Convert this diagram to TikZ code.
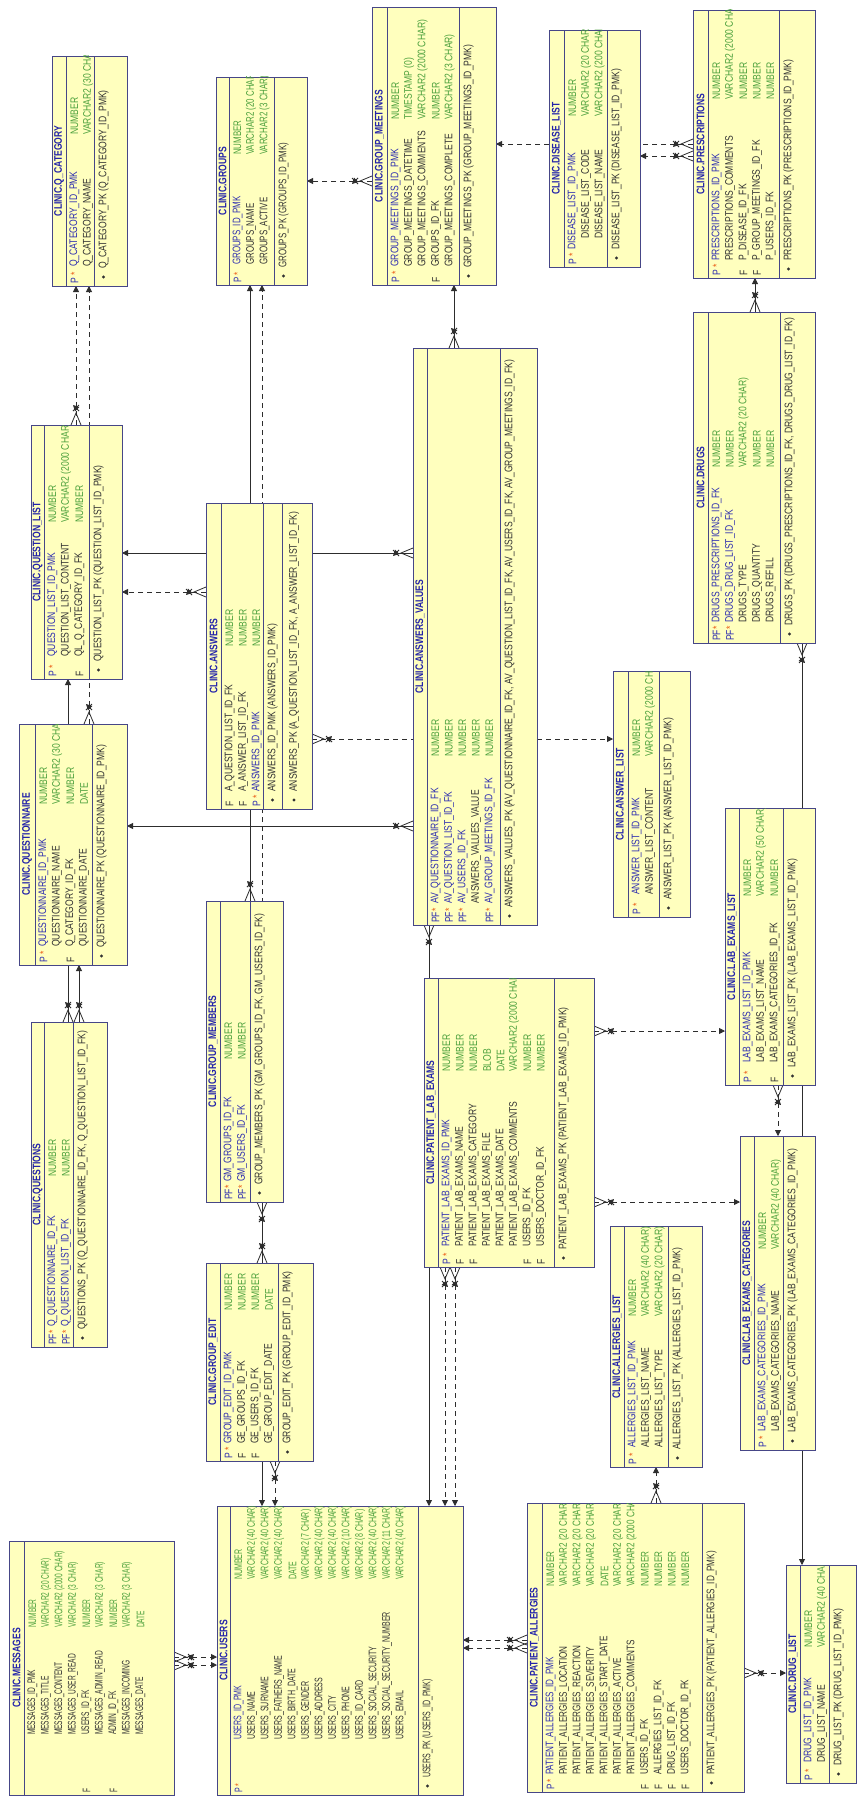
\documentclass[tikz,border=0pt]{standalone}
\usepackage{fontspec}
\setmainfont{Liberation Sans}
\usetikzlibrary{arrows.meta, decorations.markings}

\definecolor{tblfill}{RGB}{255,255,190}
\definecolor{tbledge}{RGB}{70,70,135}
\definecolor{ttlblue}{RGB}{35,35,170}
\definecolor{pkblue}{RGB}{45,45,175}
\definecolor{namegray}{RGB}{50,50,50}
\definecolor{typegreen}{RGB}{75,160,60}
\definecolor{starred}{RGB}{235,95,25}
\definecolor{linkgray}{RGB}{45,45,45}

\pgfdeclarelayer{links}
\pgfsetlayers{links,main}

\newcommand\tsx{0.78}
\newcommand\mkp{\textcolor{pkblue}{P}\hspace{3pt}\textcolor{starred}{*}}
\newcommand\mkpf{\textcolor{pkblue}{PF}\textcolor{starred}{*}}
\newcommand\mkf{\textcolor{namegray}{F}}

% table frame: name, x0, y0, x1, y1 (pixels, y downwards)
\newcommand\tframe[5]{\node[tbl, minimum width=#4pt-#2pt, minimum height=#5pt-#3pt]
  (#1) at ({(#2+#4)/2},{(#3+#5)/2}) {};}
% table text, read bottom to top: [scale]{name}{length}{width}{title sep}{key sep}{name start}{type start}
\newenvironment{ertab}[8][0.78]{%
  \begin{scope}[shift={(#2.south west)}, rotate=90, transform shape]
  \def\tlen{#3}\def\tsep{#5}\def\ksep{#6}\def\nst{#7}\def\tst{#8}\def\tsx{#1}%
  \clip (0,0) rectangle (#3,#4);
  \draw[sep] (0,#5) -- (#3,#5) (0,#6) -- (#3,#6);}{\end{scope}}
\newcommand\ttl[1]{\node[ttl] at (\tlen/2,\tsep/2) {#1};}
\newcommand\col[5][namegray]{\pgfmathsetmacro\rv{\tsep+8.5+13.5*(#2-1)}%
  \node[fld] at (2,\rv) {#3};
  \node[fld, text=#1] at (\nst,\rv) {#4};
  \node[fld, text=typegreen] at (\tst,\rv) {#5};}
\newcommand\pkey[2][9.5]{\fill[namegray] (9,\ksep+#1) circle (1.7);
  \node[fld, text=namegray] at (17,\ksep+#1) {#2};}

\begin{document}
\begin{tikzpicture}[x=1pt, y=-1pt,
    tbl/.style={draw=tbledge, fill=tblfill, line width=0.8pt, inner sep=0pt, outer sep=0pt},
    sep/.style={draw=tbledge, line width=0.8pt},
    fld/.style={anchor=west, inner sep=0pt, font=\fontsize{11}{13}\selectfont, xscale=\tsx},
    ttl/.style={inner sep=0pt, font=\fontsize{11}{13}\selectfont\bfseries, text=ttlblue, xscale=0.78},
    crow/.style={postaction={decorate, decoration={markings, mark=at position 0pt with
        {\draw[solid, line width=0.8pt, linkgray] (0,5) -- (12,0) -- (0,-5) (14,-3) -- (20,3) (14,3) -- (20,-3);}}}},
    fk/.style={draw=linkgray, line width=0.8pt, -{Triangle[length=6pt, width=6pt]}, crow},
    fkd/.style={fk, dash pattern=on 5pt off 4pt},
]
\useasboundingbox (0,0) rectangle (857,1798);

% questionnaires
\tframe{qcat}{52}{56}{127}{286}
\begin{ertab}{qcat}{230}{75}{14}{42}{19}{151}
\ttl{CLINIC.Q\_CATEGORY}
\col[pkblue]{1}{\mkp}{Q\_CATEGORY\_ID\_PMK}{NUMBER}
\col{2}{}{Q\_CATEGORY\_NAME}{VARCHAR2 (30 CHAR)}
\pkey{Q\_CATEGORY\_PK (Q\_CATEGORY\_ID\_PMK)}
\end{ertab}

\tframe{qlist}{31}{425}{122}{679}
\begin{ertab}{qlist}{254}{91}{13}{58}{22}{156}
\ttl{CLINIC.QUESTION\_LIST}
\col[pkblue]{1}{\mkp}{QUESTION\_LIST\_ID\_PMK}{NUMBER}
\col{2}{}{QUESTION\_LIST\_CONTENT}{VARCHAR2 (2000 CHAR)}
\col{3}{\mkf}{QL\_Q\_CATEGORY\_ID\_FK}{NUMBER}
\pkey{QUESTION\_LIST\_PK (QUESTION\_LIST\_ID\_PMK)}
\end{ertab}

\tframe{qnaire}{19}{724}{127}{965}
\begin{ertab}{qnaire}{241}{108}{16}{73}{18}{160}
\ttl{CLINIC.QUESTIONNAIRE}
\col[pkblue]{1}{\mkp}{QUESTIONNAIRE\_ID\_PMK}{NUMBER}
\col{2}{}{QUESTIONNAIRE\_NAME}{VARCHAR2 (30 CHAR)}
\col{3}{\mkf}{Q\_CATEGORY\_ID\_FK}{NUMBER}
\col{4}{}{QUESTIONNAIRE\_DATE}{DATE}
\pkey{QUESTIONNAIRE\_PK (QUESTIONNAIRE\_ID\_PMK)}
\end{ertab}

\tframe{questions}{31}{1022}{107}{1347}
\begin{ertab}{questions}{325}{76}{13}{42}{20}{170}
\ttl{CLINIC.QUESTIONS}
\col[pkblue]{1}{\mkpf}{Q\_QUESTIONNAIRE\_ID\_FK}{NUMBER}
\col[pkblue]{2}{\mkpf}{Q\_QUESTION\_LIST\_ID\_FK}{NUMBER}
\pkey{QUESTIONS\_PK (Q\_QUESTIONNAIRE\_ID\_FK, Q\_QUESTION\_LIST\_ID\_FK)}
\end{ertab}

\tframe{answers}{206}{503}{312}{809}
\begin{ertab}{answers}{306}{106}{15}{57}{17}{162}
\draw[sep] (0,76) -- (\tlen,76);
\ttl{CLINIC.ANSWERS}
\col{1}{\mkf}{A\_QUESTION\_LIST\_ID\_FK}{NUMBER}
\col{2}{\mkf}{A\_ANSWER\_LIST\_ID\_FK}{NUMBER}
\col[pkblue]{3}{\mkp}{ANSWERS\_ID\_PMK}{NUMBER}
\pkey{ANSWERS\_ID\_PMK (ANSWERS\_ID\_PMK)}
\pkey[31]{ANSWERS\_PK (A\_QUESTION\_LIST\_ID\_FK, A\_ANSWER\_LIST\_ID\_FK)}
\end{ertab}

\tframe{avalues}{413}{348}{537}{925}
\begin{ertab}{avalues}{577}{124}{14}{87}{21}{168}
\ttl{CLINIC.ANSWERS\_VALUES}
\col[pkblue]{1}{\mkpf}{AV\_QUESTIONNAIRE\_ID\_FK}{NUMBER}
\col[pkblue]{2}{\mkpf}{AV\_QUESTION\_LIST\_ID\_FK}{NUMBER}
\col[pkblue]{3}{\mkpf}{AV\_USERS\_ID\_FK}{NUMBER}
\col{4}{}{ANSWERS\_VALUES\_VALUE}{NUMBER}
\col[pkblue]{5}{\mkpf}{AV\_GROUP\_MEETINGS\_ID\_FK}{NUMBER}
\pkey{ANSWERS\_VALUES\_PK (AV\_QUESTIONNAIRE\_ID\_FK, AV\_QUESTION\_LIST\_ID\_FK, AV\_USERS\_ID\_FK, AV\_GROUP\_MEETINGS\_ID\_FK)}
\end{ertab}

\tframe{alist}{613}{671}{690}{917}
\begin{ertab}{alist}{246}{77}{15}{46}{22}{160}
\ttl{CLINIC.ANSWER\_LIST}
\col[pkblue]{1}{\mkp}{ANSWER\_LIST\_ID\_PMK}{NUMBER}
\col{2}{}{ANSWER\_LIST\_CONTENT}{VARCHAR2 (2000 CHAR)}
\pkey{ANSWER\_LIST\_PK (ANSWER\_LIST\_ID\_PMK)}
\end{ertab}

% groups
\tframe{groups}{216}{77}{307}{285}
\begin{ertab}[0.72]{groups}{208}{91}{13}{58}{20}{130}
\ttl{CLINIC.GROUPS}
\col[pkblue]{1}{\mkp}{GROUPS\_ID\_PMK}{NUMBER}
\col{2}{}{GROUPS\_NAME}{VARCHAR2 (20 CHAR)}
\col{3}{}{GROUPS\_ACTIVE}{VARCHAR2 (3 CHAR)}
\pkey{GROUPS\_PK (GROUPS\_ID\_PMK)}
\end{ertab}

\tframe{gmeet}{372}{7}{496}{285}
\begin{ertab}{gmeet}{278}{124}{15}{87}{18}{165}
\ttl{CLINIC.GROUP\_MEETINGS}
\col[pkblue]{1}{\mkp}{GROUP\_MEETINGS\_ID\_PMK}{NUMBER}
\col{2}{}{GROUP\_MEETINGS\_DATETIME}{TIMESTAMP (0)}
\col{3}{}{GROUP\_MEETINGS\_COMMENTS}{VARCHAR2 (2000 CHAR)}
\col{4}{\mkf}{GROUPS\_ID\_FK}{NUMBER}
\col{5}{}{GROUP\_MEETINGS\_COMPLETE}{VARCHAR2 (3 CHAR)}
\pkey{GROUP\_MEETINGS\_PK (GROUP\_MEETINGS\_ID\_PMK)}
\end{ertab}

\tframe{gmembers}{206}{901}{283}{1202}
\begin{ertab}{gmembers}{301}{77}{14}{44}{20}{142}
\ttl{CLINIC.GROUP\_MEMBERS}
\col[pkblue]{1}{\mkpf}{GM\_GROUPS\_ID\_FK}{NUMBER}
\col[pkblue]{2}{\mkpf}{GM\_USERS\_ID\_FK}{NUMBER}
\pkey{GROUP\_MEMBERS\_PK (GM\_GROUPS\_ID\_FK, GM\_USERS\_ID\_FK)}
\end{ertab}

\tframe{gedit}{206}{1263}{313}{1461}
\begin{ertab}{gedit}{198}{107}{14}{72}{17}{150}
\ttl{CLINIC.GROUP\_EDIT}
\col[pkblue]{1}{\mkp}{GROUP\_EDIT\_ID\_PMK}{NUMBER}
\col{2}{\mkf}{GE\_GROUPS\_ID\_FK}{NUMBER}
\col{3}{\mkf}{GE\_USERS\_ID\_FK}{NUMBER}
\col{4}{}{GE\_GROUP\_EDIT\_DATE}{DATE}
\pkey{GROUP\_EDIT\_PK (GROUP\_EDIT\_ID\_PMK)}
\end{ertab}

% prescriptions
\tframe{dlist}{549}{30}{640}{267}
\begin{ertab}{dlist}{237}{91}{15}{58}{17}{150}
\ttl{CLINIC.DISEASE\_LIST}
\col[pkblue]{1}{\mkp}{DISEASE\_LIST\_ID\_PMK}{NUMBER}
\col{2}{}{\hspace*{14pt}DISEASE\_LIST\_CODE}{VARCHAR2 (20 CHAR)}
\col{3}{}{\hspace*{14pt}DISEASE\_LIST\_NAME}{VARCHAR2 (200 CHAR)}
\pkey{DISEASE\_LIST\_PK (DISEASE\_LIST\_ID\_PMK)}
\end{ertab}

\tframe{presc}{693}{10}{815}{278}
\begin{ertab}{presc}{268}{122}{15}{86}{17}{178}
\ttl{CLINIC.PRESCRIPTIONS}
\col[pkblue]{1}{\mkp}{PRESCRIPTIONS\_ID\_PMK}{NUMBER}
\col{2}{}{PRESCRIPTIONS\_COMMENTS}{VARCHAR2 (2000 CHAR)}
\col{3}{\mkf}{P\_DISEASE\_ID\_FK}{NUMBER}
\col{4}{\mkf}{P\_GROUP\_MEETINGS\_ID\_FK}{NUMBER}
\col{5}{}{P\_USERS\_ID\_FK}{NUMBER}
\pkey{PRESCRIPTIONS\_PK (PRESCRIPTIONS\_ID\_PMK)}
\end{ertab}

\tframe{drugs}{693}{312}{815}{643}
\begin{ertab}{drugs}{331}{122}{15}{87}{20}{175}
\ttl{CLINIC.DRUGS}
\col[pkblue]{1}{\mkpf}{DRUGS\_PRESCRIPTIONS\_ID\_FK}{NUMBER}
\col[pkblue]{2}{\mkpf}{DRUGS\_DRUG\_LIST\_ID\_FK}{NUMBER}
\col{3}{}{DRUGS\_TYPE}{VARCHAR2 (20 CHAR)}
\col{4}{}{DRUGS\_QUANTITY}{NUMBER}
\col{5}{}{DRUGS\_REFILL}{NUMBER}
\pkey{DRUGS\_PK (DRUGS\_PRESCRIPTIONS\_ID\_FK, DRUGS\_DRUG\_LIST\_ID\_FK)}
\end{ertab}

\tframe{druglist}{786}{1565}{856}{1783}
\begin{ertab}{druglist}{218}{70}{14}{43}{20}{135}
\ttl{CLINIC.DRUG\_LIST}
\col[pkblue]{1}{\mkp}{DRUG\_LIST\_ID\_PMK}{NUMBER}
\col{2}{}{DRUG\_LIST\_NAME}{VARCHAR2 (40 CHAR)}
\pkey{DRUG\_LIST\_PK (DRUG\_LIST\_ID\_PMK)}
\end{ertab}

% lab exams
\tframe{plab}{424}{978}{594}{1267}
\begin{ertab}{plab}{289}{170}{14}{130}{20}{195}
\ttl{CLINIC.PATIENT\_LAB\_EXAMS}
\col[pkblue]{1}{\mkp}{PATIENT\_LAB\_EXAMS\_ID\_PMK}{NUMBER}
\col{2}{\mkf}{PATIENT\_LAB\_EXAMS\_NAME}{NUMBER}
\col{3}{\mkf}{PATIENT\_LAB\_EXAMS\_CATEGORY}{NUMBER}
\col{4}{}{PATIENT\_LAB\_EXAMS\_FILE}{BLOB}
\col{5}{}{PATIENT\_LAB\_EXAMS\_DATE}{DATE}
\col{6}{}{PATIENT\_LAB\_EXAMS\_COMMENTS}{VARCHAR2 (2000 CHAR)}
\col{7}{\mkf}{USERS\_ID\_FK}{NUMBER}
\col{8}{\mkf}{USERS\_DOCTOR\_ID\_FK}{NUMBER}
\pkey{PATIENT\_LAB\_EXAMS\_PK (PATIENT\_LAB\_EXAMS\_ID\_PMK)}
\end{ertab}

\tframe{lelist}{725}{808}{815}{1085}
\begin{ertab}{lelist}{277}{90}{14}{58}{22}{188}
\ttl{CLINIC.LAB\_EXAMS\_LIST}
\col[pkblue]{1}{\mkp}{LAB\_EXAMS\_LIST\_ID\_PMK}{NUMBER}
\col{2}{}{LAB\_EXAMS\_LIST\_NAME}{VARCHAR2 (50 CHAR)}
\col{3}{\mkf}{LAB\_EXAMS\_CATEGORIES\_ID\_FK}{NUMBER}
\pkey{LAB\_EXAMS\_LIST\_PK (LAB\_EXAMS\_LIST\_ID\_PMK)}
\end{ertab}

\tframe{lecat}{740}{1136}{815}{1450}
\begin{ertab}{lecat}{314}{75}{14}{43}{18}{200}
\ttl{CLINIC.LAB\_EXAMS\_CATEGORIES}
\col[pkblue]{1}{\mkp}{LAB\_EXAMS\_CATEGORIES\_ID\_PMK}{NUMBER}
\col{2}{}{LAB\_EXAMS\_CATEGORIES\_NAME}{VARCHAR2 (40 CHAR)}
\pkey{LAB\_EXAMS\_CATEGORIES\_PK (LAB\_EXAMS\_CATEGORIES\_ID\_PMK)}
\end{ertab}

% allergies
\tframe{allist}{610}{1226}{702}{1467}
\begin{ertab}{allist}{241}{92}{14}{58}{19}{150}
\ttl{CLINIC.ALLERGIES\_LIST}
\col[pkblue]{1}{\mkp}{ALLERGIES\_LIST\_ID\_PMK}{NUMBER}
\col{2}{}{ALLERGIES\_LIST\_NAME}{VARCHAR2 (40 CHAR)}
\col{3}{}{ALLERGIES\_LIST\_TYPE}{VARCHAR2 (20 CHAR)}
\pkey{ALLERGIES\_LIST\_PK (ALLERGIES\_LIST\_ID\_PMK)}
\end{ertab}

\tframe{pallerg}{527}{1503}{744}{1792}
\begin{ertab}[0.74]{pallerg}{289}{217}{15}{175}{17}{205}
\ttl{CLINIC.PATIENT\_ALLERGIES}
\col[pkblue]{1}{\mkp}{PATIENT\_ALLERGIES\_ID\_PMK}{NUMBER}
\col{2}{}{PATIENT\_ALLERGIES\_LOCATION}{VARCHAR2 (20 CHAR)}
\col{3}{}{PATIENT\_ALLERGIES\_REACTION}{VARCHAR2 (20 CHAR)}
\col{4}{}{PATIENT\_ALLERGIES\_SEVERITY}{VARCHAR2 (20 CHAR)}
\col{5}{}{PATIENT\_ALLERGIES\_START\_DATE}{DATE}
\col{6}{}{PATIENT\_ALLERGIES\_ACTIVE}{VARCHAR2 (20 CHAR)}
\col{7}{}{PATIENT\_ALLERGIES\_COMMENTS}{VARCHAR2 (2000 CHAR)}
\col{8}{\mkf}{USERS\_ID\_FK}{NUMBER}
\col{9}{\mkf}{ALLERGIES\_LIST\_ID\_FK}{NUMBER}
\col{10}{\mkf}{DRUG\_LIST\_ID\_FK}{NUMBER}
\col{11}{\mkf}{USERS\_DOCTOR\_ID\_FK}{NUMBER}
\pkey{PATIENT\_ALLERGIES\_PK (PATIENT\_ALLERGIES\_ID\_PMK)}
\end{ertab}

% users
\tframe{messages}{9}{1541}{174}{1795}
\begin{ertab}[0.6]{messages}{254}{165}{15}{165}{60}{167}
\ttl{CLINIC.MESSAGES}
\col{1}{}{MESSAGES\_ID\_PMK}{NUMBER}
\col{2}{}{MESSAGES\_TITLE}{VARCHAR2 (20 CHAR)}
\col{3}{}{MESSAGES\_CONTENT}{VARCHAR2 (2000 CHAR)}
\col{4}{}{MESSAGES\_USER\_READ}{VARCHAR2 (3 CHAR)}
\col{5}{\mkf}{USERS\_ID\_FK}{NUMBER}
\col{6}{}{MESSAGES\_ADMIN\_READ}{VARCHAR2 (3 CHAR)}
\col{7}{\mkf}{ADMIN\_ID\_FK}{NUMBER}
\col{8}{}{MESSAGES\_INCOMING}{VARCHAR2 (3 CHAR)}
\col{9}{}{MESSAGES\_DATE}{DATE}
\end{ertab}

\tframe{users}{217}{1506}{463}{1795}
\begin{ertab}[0.64]{users}{289}{246}{13}{201}{55}{215}
\ttl{CLINIC.USERS}
\col[pkblue]{1}{\mkp}{USERS\_ID\_PMK}{NUMBER}
\col{2}{}{USERS\_NAME}{VARCHAR2 (40 CHAR)}
\col{3}{}{USERS\_SURNAME}{VARCHAR2 (40 CHAR)}
\col{4}{}{USERS\_FATHERS\_NAME}{VARCHAR2 (40 CHAR)}
\col{5}{}{USERS\_BIRTH\_DATE}{DATE}
\col{6}{}{USERS\_GENDER}{VARCHAR2 (7 CHAR)}
\col{7}{}{USERS\_ADDRESS}{VARCHAR2 (40 CHAR)}
\col{8}{}{USERS\_CITY}{VARCHAR2 (40 CHAR)}
\col{9}{}{USERS\_PHONE}{VARCHAR2 (10 CHAR)}
\col{10}{}{USERS\_ID\_CARD}{VARCHAR2 (8 CHAR)}
\col{11}{}{USERS\_SOCIAL\_SECURITY}{VARCHAR2 (40 CHAR)}
\col{12}{}{USERS\_SOCIAL\_SECURITY\_NUMBER}{VARCHAR2 (11 CHAR)}
\col{13}{}{USERS\_EMAIL}{VARCHAR2 (40 CHAR)}
\pkey{USERS\_PK (USERS\_ID\_PMK)}
\end{ertab}

% relations, child end first
\begin{pgfonlayer}{links}
\fill[white] (0,0) rectangle (857,1798);
\draw[fkd] (gmeet.west |- 0,181) -- (groups.east |- 0,181);
\draw[fkd] (qlist.north -| 76,0) -- (qcat.south -| 76,0);
\draw[fkd] (qnaire.north -| 89,0) -- (qcat.south -| 89,0);
\draw[fk] (gmembers.north -| 250,0) -- (groups.south -| 250,0);
\draw[fkd] (gedit.north -| 262,0) -- (groups.south -| 262,0);
\draw[fk] (gmembers.south -| 262,0) -- (users.north -| 262,0);
\draw[fkd] (gedit.south -| 275,0) -- (users.north -| 275,0);
\draw[fk] (avalues.north -| 454,0) -- (gmeet.south -| 454,0);
\draw[fkd] (presc.west |- 0,144) -- (gmeet.east |- 0,144);
\draw[fkd] (presc.west |- 0,156) -- (dlist.east |- 0,156);
\draw[fk] (drugs.north -| 755,0) -- (presc.south -| 755,0);
\draw[fk] (avalues.west |- 0,553) -- (qlist.east |- 0,553);
\draw[fkd] (answers.west |- 0,592) -- (qlist.east |- 0,592);
\draw[fkd] (answers.east |- 0,739) -- (alist.west |- 0,739);
\draw[fk] (avalues.west |- 0,826) -- (qnaire.east |- 0,826);
\draw[fk] (questions.north -| 68,0) -- (qlist.south -| 68,0);
\draw[fk] (questions.north -| 79,0) -- (qnaire.south -| 79,0);
\draw[fk] (avalues.south -| 429,0) -- (users.north -| 429,0);
\draw[fkd] (plab.south -| 445,0) -- (users.north -| 445,0);
\draw[fkd] (plab.south -| 455,0) -- (users.north -| 455,0);
\draw[fkd] (plab.east |- 0,1031) -- (lelist.west |- 0,1031);
\draw[fkd] (plab.east |- 0,1202) -- (lecat.west |- 0,1202);
\draw[fkd] (lelist.south -| 778,0) -- (lecat.north -| 778,0);
\draw[fk] (drugs.south -| 802,0) -- (druglist.north -| 802,0);
\draw[fkd] (messages.east |- 0,1657) -- (users.west |- 0,1657);
\draw[fkd] (messages.east |- 0,1665) -- (users.west |- 0,1665);
\draw[fkd] (pallerg.west |- 0,1640) -- (users.east |- 0,1640);
\draw[fkd] (pallerg.west |- 0,1648) -- (users.east |- 0,1648);
\draw[fkd] (pallerg.north -| 656,0) -- (allist.south -| 656,0);
\draw[fkd] (pallerg.east |- 0,1673) -- (druglist.west |- 0,1673);
\end{pgfonlayer}

\end{tikzpicture}
\end{document}
